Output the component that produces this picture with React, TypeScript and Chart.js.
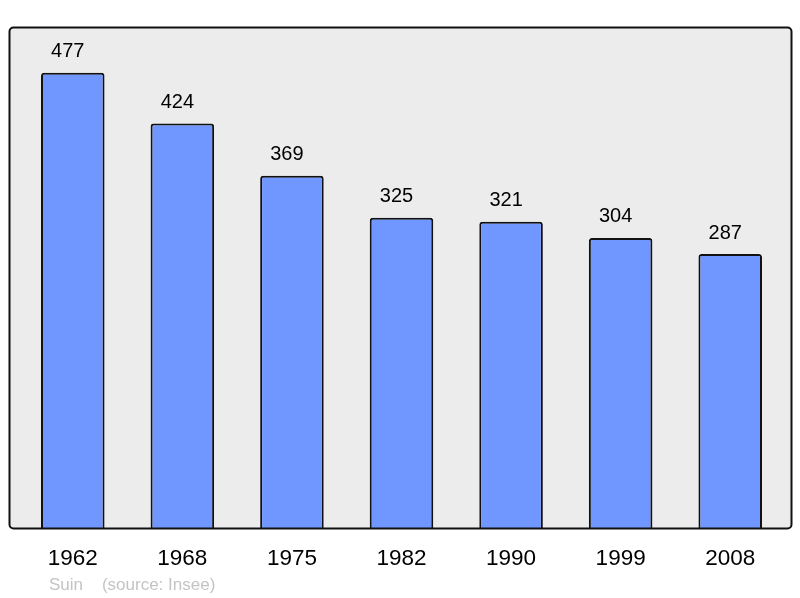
import React, { useEffect, useRef } from "react";
import { Chart, registerables } from "chart.js";

Chart.register(...registerables);

const years = ["1962", "1968", "1975", "1982", "1990", "1999", "2008"];
const population = [477, 424, 369, 325, 321, 304, 287];
const footerText = "Suin    (source: Insee)";

export default function App() {
  const ref = useRef<HTMLCanvasElement | null>(null);

  useEffect(() => {
    document.body.style.margin = "0";
    const canvas = ref.current!;
    const frame = {
      id: "frame",
      beforeDraw(chart: any) {
        const ctx = chart.ctx;
        const a = chart.chartArea;
        const x0 = 9.5, x1 = 791.5, y0 = 27.5, y1 = a.bottom + 0.5;
        ctx.save();
        ctx.beginPath();
        ctx.roundRect(x0, y0, x1 - x0, y1 - y0, 4);
        ctx.fillStyle = "#ececec";
        ctx.fill();
        ctx.restore();
      },
      afterDatasetsDraw(chart: any) {
        const ctx = chart.ctx;
        const a = chart.chartArea;
        const x0 = 9.5, x1 = 791.5, y0 = 27.5, y1 = a.bottom + 0.5;
        ctx.save();
        ctx.beginPath();
        ctx.roundRect(x0, y0, x1 - x0, y1 - y0, 4);
        ctx.lineWidth = 2;
        ctx.strokeStyle = "#111";
        ctx.stroke();
        // value labels
        const meta = chart.getDatasetMeta(0);
        ctx.fillStyle = "#000";
        ctx.font = "20px 'Liberation Sans', Arial, sans-serif";
        ctx.textAlign = "center";
        ctx.textBaseline = "middle";
        meta.data.forEach((bar: any, i: number) => {
          ctx.fillText(String(population[i]), bar.x - 5, bar.y - 21);
        });
        // footer
        ctx.fillStyle = "#c4c4c4";
        ctx.font = "17px 'Liberation Sans', Arial, sans-serif";
        ctx.textAlign = "left";
        ctx.fillText(footerText, 49, 585);
        ctx.restore();
      },
    };
    const chart = new Chart(canvas, {
      type: "bar",
      data: {
        labels: years,
        datasets: [
          {
            data: population,
            backgroundColor: "#7096ff",
            borderColor: "#111",
            borderWidth: 2,
            borderRadius: 3,
            borderSkipped: "start",
            categoryPercentage: 1,
            barPercentage: 0.58,
          },
        ],
      },
      options: {
        responsive: false,
        animation: false,
        layout: { padding: { left: 18, right: 15, top: 27, bottom: 0 } },
        plugins: { legend: { display: false }, tooltip: { enabled: false }, title: { display: false } },
        scales: {
          y: { display: false, min: 0, max: 525 },
          x: {
            grid: { display: false, drawTicks: false },
            border: { display: false },
            ticks: {
              color: "#000",
              font: { size: 22.5, family: "'Liberation Sans', Arial, sans-serif" },
              padding: 17,
              maxRotation: 0,
            },
            afterFit(scale: any) {
              scale.height = 70;
            },
          },
        },
      },
      plugins: [frame],
    });
    return () => chart.destroy();
  }, []);

  return <canvas ref={ref} width={800} height={598} style={{ display: "block" }} />;
}
